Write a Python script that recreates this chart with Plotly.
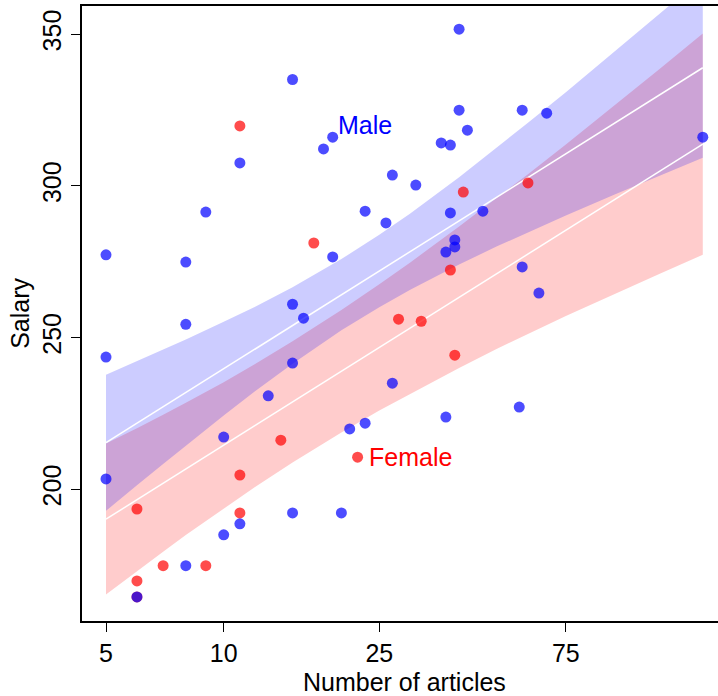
import numpy as np
import plotly.graph_objects as go

# ---- data ----
male_articles = [5, 5, 5, 6, 8, 8, 8, 9, 10, 10, 11, 11, 13, 15, 15, 15, 15, 16, 18, 19, 19, 20, 21, 23, 23,
                 26, 27, 27, 31, 36, 37, 37, 38, 38, 39, 39, 40, 40, 42, 46, 57, 58, 58, 64, 67, 168]
male_salary = [277.3, 243.6, 203.4, 164.5, 174.8, 274.9, 254.4, 291.4, 217.2, 185.0, 307.6, 188.6, 230.8,
               335.1, 261.0, 241.6, 192.2, 256.4, 312.2, 316.1, 276.6, 192.2, 219.9, 291.7, 221.8,
               287.8, 303.6, 235.0, 300.3, 314.2, 278.2, 223.8, 313.5, 291.1, 282.2, 279.9, 351.7, 325.0,
               318.4, 291.7, 227.1, 325.0, 273.3, 264.7, 324.0, 316.1]

female_articles = [6, 6, 6, 7, 9, 11, 11, 11, 14, 17, 22, 28, 32, 38, 39, 41, 60]
female_salary = [193.5, 169.8, 164.5, 174.8, 174.8, 319.8, 204.7, 192.2, 216.2, 281.2, 210.6, 256.1,
                 255.4, 272.3, 244.2, 298.0, 301.0]

# fitted lines (end points) and confidence bands
fit_articles = [5, 168]
male_fit = [215.35, 338.97]
female_fit = [190.15, 313.77]

band_articles = [5, 6, 7, 8, 10, 12, 15, 20, 25, 30, 40, 50, 60, 75, 100, 130, 168]
male_lower = [192.9, 201.3, 208.3, 214.4, 224.3, 232.2, 241.4, 252.4, 260.0, 265.8, 274.1, 280.1,
              284.8, 290.3, 297.2, 303.4, 309.3]
male_upper = [237.8, 242.2, 246.0, 249.4, 255.2, 260.1, 266.6, 275.9, 283.9, 290.9, 302.9, 312.6,
              320.8, 330.9, 344.3, 356.6, 368.7]
female_lower = [165.3, 173.0, 179.4, 184.9, 193.7, 200.7, 208.8, 218.7, 226.0, 231.6, 240.0, 246.3,
                251.2, 257.1, 264.4, 271.0, 277.3]
female_upper = [215.1, 220.1, 224.6, 228.5, 235.3, 241.2, 248.8, 259.1, 267.6, 274.8, 286.6, 296.0,
                303.9, 313.7, 326.6, 338.5, 350.3]

x_ticks = [5, 10, 25, 75]
y_ticks = [200, 250, 300, 350]

FONT = "Liberation Sans, Arial, Helvetica, sans-serif"

fig = go.Figure()

def band(xs, lo, hi, color):
    return go.Scatter(x=list(xs) + list(xs)[::-1], y=list(hi) + list(lo)[::-1],
                      fill="toself", fillcolor=color, line=dict(width=0),
                      mode="lines", hoverinfo="skip", showlegend=False)

fig.add_trace(band(band_articles, female_lower, female_upper, "rgba(255,0,0,0.2)"))
fig.add_trace(band(band_articles, male_lower, male_upper, "rgba(0,0,255,0.2)"))

fig.add_trace(go.Scatter(x=fit_articles, y=male_fit, mode="lines",
                         line=dict(color="white", width=1.5), showlegend=False))
fig.add_trace(go.Scatter(x=fit_articles, y=female_fit, mode="lines",
                         line=dict(color="white", width=1.5), showlegend=False))

fig.add_trace(go.Scatter(x=female_articles, y=female_salary, mode="markers",
                         marker=dict(size=11, color="rgba(255,0,0,0.7)", line=dict(width=0)),
                         showlegend=False))
fig.add_trace(go.Scatter(x=male_articles, y=male_salary, mode="markers",
                         marker=dict(size=11, color="rgba(0,0,255,0.7)", line=dict(width=0)),
                         showlegend=False))

fig.add_annotation(x=1.2873, y=320.0, xref="x", yref="y", text="Male", showarrow=False,
                   xanchor="left", yanchor="middle", font=dict(family=FONT, size=25, color="#0000FF"))
fig.add_annotation(x=1.3665, y=210.6, xref="x", yref="y", text="Female", showarrow=False,
                   xanchor="left", yanchor="middle", font=dict(family=FONT, size=25, color="#FF0000"))

fig.add_annotation(x=0.5074, y=-0.0992, xref="paper", yref="paper", text="Number of articles",
                   showarrow=False, xanchor="center", yanchor="middle",
                   font=dict(family=FONT, size=25, color="black"))
fig.add_annotation(x=-0.0985, y=0.5, xref="paper", yref="paper", text="Salary", textangle=-90,
                   showarrow=False, xanchor="center", yanchor="middle",
                   font=dict(family=FONT, size=25, color="black"))

fig.update_xaxes(type="log", range=[0.6376, 2.2642], tickvals=x_ticks,
                 ticktext=[str(v) for v in x_ticks], ticks="outside", ticklen=9, tickwidth=1.2,
                 tickcolor="black", showline=True, linecolor="black", linewidth=1.6, mirror=True,
                 showgrid=False, zeroline=False, automargin=False,
                 tickfont=dict(family=FONT, size=25, color="black"))
fig.update_yaxes(range=[156.58, 359.33], tickvals=y_ticks, ticks="outside", ticklen=9, tickwidth=1.2,
                 tickcolor="black", showline=True, linecolor="black", linewidth=1.6, mirror=False,
                 showgrid=False, zeroline=False, tickangle=-90, automargin=False,
                 tickfont=dict(family=FONT, size=25, color="black"))

fig.update_layout(template="none", width=718, height=696, margin=dict(l=82, r=0, t=6, b=75),
                  plot_bgcolor="white", paper_bgcolor="white")

fig.write_html("out.html", config={"displayModeBar": False},
               post_script="document.body.style.margin='0';document.body.style.overflow='hidden';")
